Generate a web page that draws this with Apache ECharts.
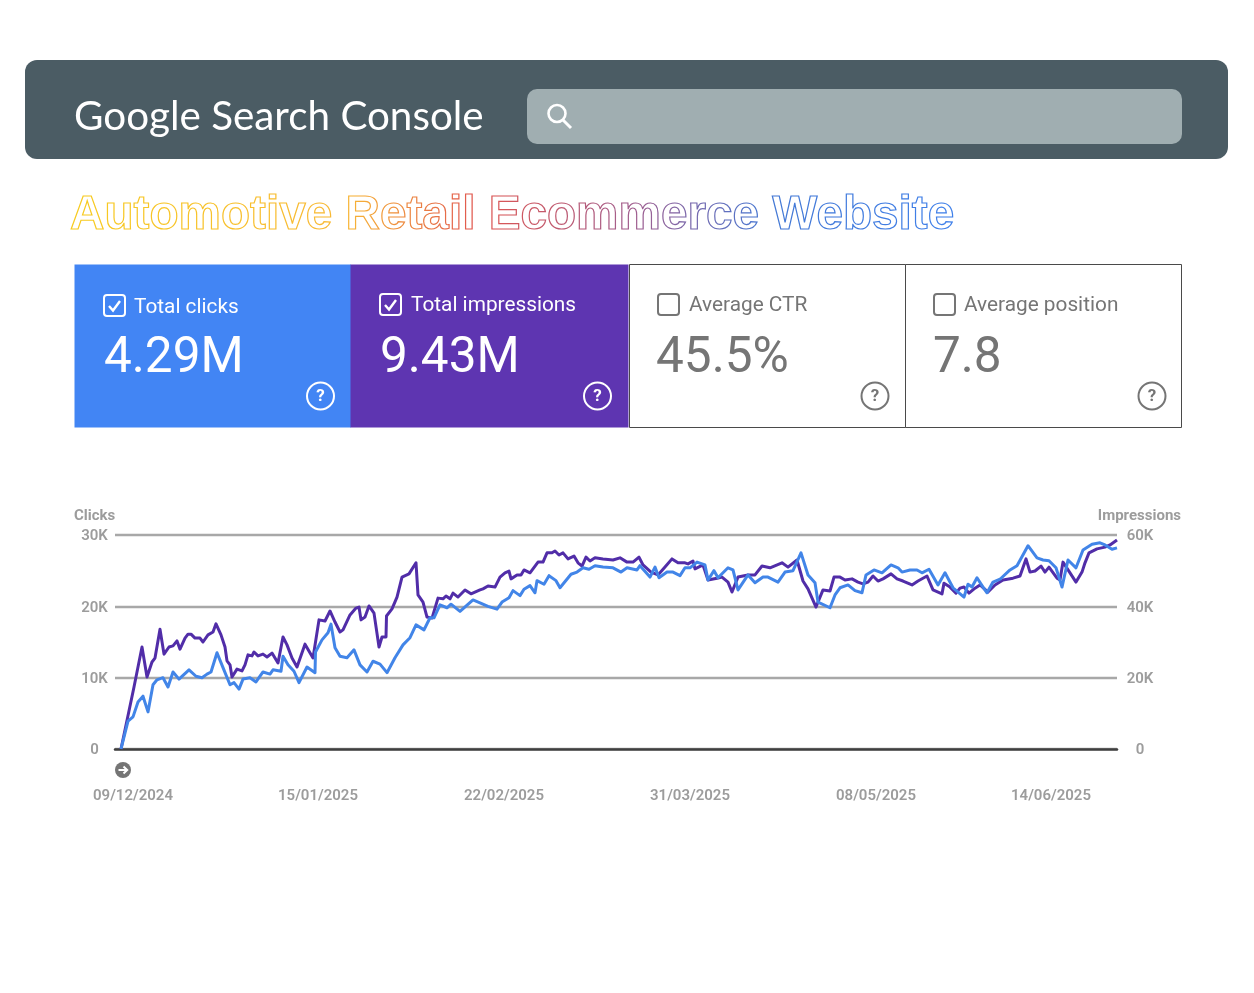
<![CDATA[<!DOCTYPE html>
<html><head><meta charset="utf-8">
<style>html,body{margin:0;padding:0;background:#fff}#wrap{position:relative;width:1254px;height:993px}#c{width:1254px;height:993px}#t{position:absolute;left:0;top:0;pointer-events:none}</style>
<script src="https://cdn.jsdelivr.net/npm/echarts@6/dist/echarts.min.js"></script>
</head><body><div id="wrap"><div id="c"></div>
<svg id="t" width="1254" height="260" xmlns="http://www.w3.org/2000/svg">
<defs><linearGradient id="g" gradientUnits="userSpaceOnUse" x1="70" y1="0" x2="954" y2="0">
<stop offset="0" stop-color="#f7cb1f"/><stop offset="0.31" stop-color="#f8b835"/><stop offset="0.46" stop-color="#e0554f"/><stop offset="0.64" stop-color="#a05f90"/><stop offset="0.79" stop-color="#4478d4"/><stop offset="1" stop-color="#3f80ea"/></linearGradient></defs>
<text x="70" y="229" fill="#fff" stroke="url(#g)" stroke-width="1.2" font-family="Liberation Sans" font-weight="700" font-size="47.7">Automotive Retail Ecommerce Website</text>
</svg></div>
<script>
const xTickDays=[3.6,40.6,77.8,115,152.2,187.2];
const xTickLabels=['09/12/2024','15/01/2025','22/02/2025','31/03/2025','08/05/2025','14/06/2025'];
const impressionDays=[1.2,3.8,5.4,6.4,6.8,7.4,8,9,9.8,10.8,11.6,12.4,13,14,14.6,15.2,16,17,17.6,18.6,19.6,20.2,21.2,22,22.4,23,23.4,24.4,25.4,26,26.6,27.4,27.8,28.6,29.6,30.4,31.4,31.6,32.6,33.6,34.4,35.4,36.4,38,39.6,40.8,42,43,44,45,45.6,47,48.2,48.8,49.2,50,50.8,51.8,52.8,53.4,54.2,54.3,55.4,56.4,57.4,58.8,60.2,60.6,61.6,62.4,63.4,64.6,65.6,66.2,67,67.6,68.6,70,71.2,71.6,73,73.6,74.6,76,77,78,78.8,79.2,80.4,81.2,81.8,83,84.6,85.6,86.4,87.4,88,88.8,89.6,90.6,91.8,92.6,93.4,94.2,95,96,97.6,99.6,101,102.4,103.6,104.8,105.6,107.2,108.6,110,111.4,112.6,114,114.6,115.6,116,117.6,118.6,120.4,121.4,122.6,123.4,124.6,126.6,128,129.4,131,133.4,134.6,136.4,137.6,138.6,140.2,141.6,143,143.8,145,146,147.4,148.6,149.6,150.6,151.6,152.6,153.6,155.2,156.4,157.6,159.4,160.6,162.4,163.6,165.4,165.8,167,168.2,169,169.8,170.8,172,173,174.6,176,177.6,179.6,181,182.2,183,184,185.2,186,186.8,188.4,189,189.6,191,192.2,193.4,194,194.8,196.4,198,199,200.4];
const impressionsK=[0,17.4,28.6,20.2,20.2,24.4,25.5,33.6,26.6,28.6,28.9,30.3,28,31.1,32.2,32.2,31.1,31.1,30,32,32.8,35.1,32,28.6,24.7,23.6,20.2,22.4,21.9,23.6,26.4,26.1,27.2,26.1,26.6,25.8,26.9,27.2,24.1,31.4,29.2,25.5,23,29.4,25.5,36.2,35.9,38.7,35.6,32.8,33.4,37.6,39.5,39.8,36.2,37,40.1,38.1,28.6,31.4,31.4,37.3,39.3,42.6,48.2,49.1,52.2,43.2,41.2,37,36.7,42.3,42.1,42.9,42.1,43.7,42.6,44.6,43.5,43.5,44.6,44.9,45.7,45.4,48.2,49.4,49.9,47.7,48.8,48.8,50.2,49.4,52.4,52.4,55,55,55.5,54.4,55,53.3,54.1,52.2,51.3,53.8,52.7,53.6,53.3,53,53.6,52.4,52.4,53.8,51.6,49.6,48.8,51,53.3,52.2,52.2,51.9,52.7,50.5,51.6,47.4,47.9,48.2,46.8,44,48.2,48.8,48.8,51.3,50.8,52.2,51,53,47.1,44.9,39.8,44.6,44.3,48.2,48.2,47.4,47.7,46.8,46.3,46.8,48.5,47.1,47.7,49.1,47.7,47.1,46,47.1,48.5,44.6,43.5,46.5,45.4,43.7,45.1,45.4,43.7,45.1,46,44,46,47.4,47.9,48.5,53.3,49.6,49.9,51.3,49.6,51,47.9,47.4,52.4,49.4,46.8,49.6,52.2,55,56.1,56.6,57.2,58.6];
const clickDays=[1.2,2.6,3.6,4.6,5.6,6.6,7.6,8.4,9.6,10.6,11.6,12.8,14.8,16.2,17.4,18.4,19.2,20.4,21.6,23,23.8,24.8,25.6,27,28.2,29.6,31,31.6,33.2,33.6,34.6,35.8,36.8,38.4,40,40.1,41.4,42.6,43.2,44,45,46.4,47.8,49,50.4,51.6,53,54.4,56,57.6,59,60.2,61.8,63,63.8,65,66.4,67.2,69,71.6,73,74.6,76.4,77.4,78.8,79.6,81,81.8,83,84,84.4,85.8,86.8,88.2,89,91.2,92.4,93.6,94.8,96,97.6,99.6,101.2,102.4,104.4,105,107,108,108.8,110.4,111.6,113,114,115,116.4,118,118.6,119.8,120.6,122.6,123.6,124.6,126.6,128,129.6,130.6,132.6,134,135.6,137.2,138.6,140,140.6,143,144,145,146.6,148,149.4,150.2,151.8,153.4,155.2,156.6,157.4,159,160.4,161.4,162.8,164.6,166,167.6,169.8,170.6,171.4,172.4,173.6,174.4,175.6,177,179,180.4,182.6,184.4,185.6,186.8,188.2,189.4,190.6,192.2,193.6,195.4,197,198,199.4,200.4];
const clicksK=[0,3.9,4.5,6.6,7.4,5.2,9,9.7,10,8.7,10.8,9.8,11.1,10.2,10,10.5,10.8,13.5,11.4,9,9.3,8.4,9.8,10,9.4,10.8,10.5,11.1,10.9,13,11.8,10.9,9.3,11.5,10.7,13.6,15.3,16.3,17.5,14.2,13,12.8,13.9,11.8,10.8,12.3,11.9,10.7,12.8,14.6,15.6,17.4,16.7,18.4,18.4,20.2,19.8,20.3,19.3,20.9,20.5,20,19.6,20.6,21.2,22.2,21.5,22.4,22.9,21.9,23.6,23.1,24.3,23.6,22.6,24.5,24.8,25.4,25.2,25.7,25.5,25.4,24.8,25.4,25.1,25.7,24.1,25.5,24,24.8,24.8,24.3,25.4,25.4,26.2,25.8,23.7,25,24,25.4,25.1,22.3,24.4,23.3,24.1,24.1,23.4,24.8,25,27.5,24.4,23.3,20.6,19.8,21.6,22.6,23,22.2,21.9,24.4,25.1,24.7,25.8,25.4,24.8,25.1,25.1,24.7,25.2,23,24.7,22.6,21.3,23.1,22.7,24,22.7,21.9,23.4,23.8,25.1,25.7,28.5,26.8,26.5,26.4,25.4,22.7,26.5,25.4,27.9,28.7,28.9,28.6,28,28.2];
const zip=(a,b)=>a.map((v,i)=>[v,b[i]]);
const FONT='Roboto, sans-serif';
const AXC='#9c9c9c';

function card(x,w,bg,fg,checked,label,labelX,labelY,val,valX,qx){
  const bx=x+29, by=(labelY===308?295:294);
  const white=bg==='#fff';
  const els=[
    white?{type:'rect',shape:{x:x+.5,y:264.5,width:w,height:163},style:{fill:bg,stroke:'#4a4a4a',lineWidth:1},z:1}
         :{type:'rect',shape:{x:x-.5,y:264.5,width:w,height:163},style:{fill:bg},z:1},
    {type:'rect',shape:{x:bx,y:by,width:21,height:21,r:3},style:{fill:'transparent',stroke:fg,lineWidth:2},z:2},
    {type:'text',style:{x:labelX,y:labelY,text:label,fill:fg,font:'400 20.8px '+FONT,verticalAlign:'middle'},z:2},
    {type:'text',style:{x:valX,y:360,text:val,fill:fg,font:'400 49.5px '+FONT,verticalAlign:'middle'},z:2},
    {type:'circle',shape:{cx:qx,cy:396,r:13.5},style:{fill:'transparent',stroke:fg,lineWidth:2},z:2},
    {type:'text',style:{x:qx,y:397,text:'?',fill:fg,font:'700 17px '+FONT,align:'center',verticalAlign:'middle'},z:2}
  ];
  if(checked) els.push({type:'polyline',shape:{points:[[bx+5,by+11],[bx+9,by+15.5],[bx+16,by+6]]},style:{fill:'none',stroke:fg,lineWidth:2.4},z:2});
  return els;
}

const graphics=[
 {type:'rect',shape:{x:25,y:60,width:1203,height:99,r:12},style:{fill:'#4b5c64'},z:1},
 {type:'rect',shape:{x:527,y:89,width:655,height:55,r:10},style:{fill:'#a0aeb1'},z:2},
 {type:'circle',shape:{cx:557,cy:113.5,r:8.5},style:{fill:'transparent',stroke:'#fff',lineWidth:2.6},z:3},
 {type:'line',shape:{x1:563,y1:120,x2:571,y2:128},style:{stroke:'#fff',lineWidth:3},z:3},
 {type:'text',style:{x:74,y:117,text:'Google Search Console',fill:'#fff',font:'400 40.4px Lato, sans-serif',verticalAlign:'middle'},z:3},
 ...card(75,276.5,'#4285f4','#fff',true,'Total clicks',134,308,'4.29M',104,320.5),
 ...card(351,278,'#5e35b1','#fff',true,'Total impressions',411,306,'9.43M',380,597.5),
 ...card(629,276,'#fff','#757575',false,'Average CTR',689,306,'45.5%',656,875),
 ...card(905,276,'#fff','#757575',false,'Average position',964,306,'7.8',933,1152),
 {type:'circle',shape:{cx:123,cy:770,r:8},style:{fill:'#757575'},z:3},
 {type:'polyline',shape:{points:[[118.5,770],[127,770]]},style:{fill:'none',stroke:'#fff',lineWidth:2},z:4},
 {type:'polyline',shape:{points:[[123.5,766.5],[127.2,770],[123.5,773.5]]},style:{fill:'none',stroke:'#fff',lineWidth:2},z:4}
];
const yLabel=(margin)=>({color:AXC,fontFamily:FONT,fontSize:15,fontWeight:600,align:'center',margin:margin,verticalAlign:'top',lineHeight:3,formatter:v=>v?v+'K':'0'});
const chart=echarts.init(document.getElementById('c'),null,{renderer:'canvas'});
chart.setOption({
 animation:false,backgroundColor:'#fff',
 grid:{left:115,top:535,width:1002,height:214},
 graphic:graphics,
 xAxis:{type:'value',min:0,max:200.4,splitLine:{show:false},axisTick:{show:false},
  axisLine:{show:true,onZero:false,lineStyle:{color:'#3f3f3f',width:2.5}},
  axisLabel:{customValues:xTickDays,color:AXC,fontFamily:FONT,fontSize:15,fontWeight:600,margin:40,
   showMinLabel:true,showMaxLabel:true,hideOverlap:false,
   formatter:v=>xTickLabels[xTickDays.indexOf(v)]||''}},
 yAxis:[
  {type:'value',min:0,max:30,interval:10,name:'Clicks',nameLocation:'end',nameGap:11,
   nameTextStyle:{color:AXC,fontFamily:FONT,fontSize:15,fontWeight:700,align:'left',padding:[0,0,0,-41]},
   axisLine:{show:false},axisTick:{show:false},axisLabel:yLabel(20.5),
   splitLine:{lineStyle:{color:'#a8a8a8',width:2.4}}},
  {type:'value',min:0,max:60,interval:20,position:'right',name:'Impressions',nameLocation:'end',nameGap:11,
   nameTextStyle:{color:AXC,fontFamily:FONT,fontSize:15,fontWeight:700,align:'right',padding:[0,-64,0,0]},
   axisLine:{show:false},axisTick:{show:false},axisLabel:yLabel(23),splitLine:{show:false}}
 ],
 series:[
  {name:'Impressions',type:'line',yAxisIndex:1,data:zip(impressionDays,impressionsK),showSymbol:false,clip:false,z:3,
   lineStyle:{color:'#512da8',width:3,join:'round'}},
  {name:'Clicks',type:'line',yAxisIndex:0,data:zip(clickDays,clicksK),showSymbol:false,clip:false,z:4,
   lineStyle:{color:'#4285e8',width:3,join:'round'}}
 ]
});
</script></body></html>]]>
